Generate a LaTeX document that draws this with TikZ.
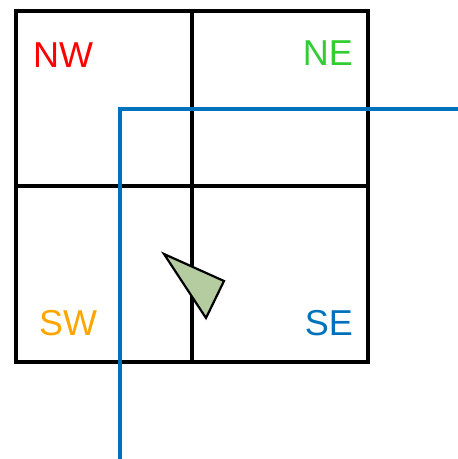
\documentclass[tikz,border=0pt]{standalone}
\usepackage{fontspec}
\setmainfont{Liberation Sans}
\definecolor{nwred}{RGB}{255,0,0}
\definecolor{negreen}{RGB}{50,205,50}
\definecolor{sworange}{RGB}{255,165,0}
\definecolor{seblue}{RGB}{0,114,189}
\definecolor{trifill}{RGB}{181,204,160}
\begin{document}
\begin{tikzpicture}[x=1pt,y=-1pt,
  gridline/.style={line width=3.5pt,draw=black},
  path/.style={line width=3.5pt,draw=seblue},
  lbl/.style={inner sep=0pt,font=\fontsize{36}{36}\selectfont}]
\useasboundingbox (0,0) rectangle (458,459);
\draw[gridline] (16,11) rectangle (368,362);
\draw[gridline] (192,11) -- (192,362);
\draw[gridline] (16,186) -- (368,186);
\coordinate (pstart) at (458,109);
\coordinate (pcorner) at (120,109);
\coordinate (pend) at (120,459);
\draw[path,line join=miter] (pstart) -- (pcorner) -- (pend);
\draw[line width=2.2pt,fill=trifill,line join=miter] (164,254) -- (224,281) -- (206,318) -- cycle;
\node[lbl,anchor=base west,text=nwred] (nw) at (33,67) {NW};
\node[lbl,anchor=base east,text=negreen] (ne) at (353,65) {NE};
\node[lbl,anchor=base west,text=sworange] (sw) at (39,335) {SW};
\node[lbl,anchor=base east,text=seblue] (se) at (353,335) {SE};
\end{tikzpicture}
\end{document}
